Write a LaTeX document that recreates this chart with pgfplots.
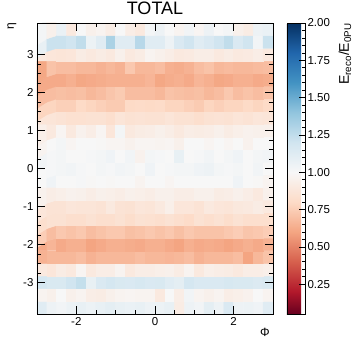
\documentclass[border=0pt]{standalone}
\usepackage{fontspec}
\setmainfont{Liberation Sans}
\usepackage{pgfplots}
\pgfplotsset{compat=1.18}
\begin{document}
\begin{tikzpicture}
\begin{axis}[
  at={(0,0)}, anchor=south west,
  scale only axis, width=236pt, height=291pt,
  xmin=-3, xmax=3, ymin=-3.83333, ymax=3.83333,
  axis on top,
  tick align=inside,
  xtick={-2,0,2}, minor x tick num=3,
  ytick={-3,-2,-1,0,1,2,3}, minor y tick num=3,
  major tick length=8pt, minor tick length=4pt,
  tick style={black, line width=0.6pt},
  axis line style={line width=0.8pt, black},
  ticklabel style={font=\fontsize{11.5}{12}\selectfont},
  /pgf/number format/assume math mode=true,
  title={TOTAL},
  title style={font=\fontsize{18}{20}\selectfont, at={(axis description cs:0.5,1)}, anchor=south, inner sep=0pt, yshift=2pt},
  xlabel={Φ}, ylabel={η},
  every axis x label/.style={at={(axis description cs:1,0)}, anchor=north east, inner sep=0pt, yshift=-14pt, xshift=-3pt, font=\fontsize{12}{13}\selectfont},
  every axis y label/.style={at={(axis description cs:-0.106,1)}, rotate=90, anchor=east, inner sep=0pt, font=\fontsize{12}{13}\selectfont},
  colormap={rdbu}{rgb255(5)=(103,0,31); rgb255(20)=(178,24,43); rgb255(40)=(214,96,77); rgb255(60)=(244,165,130); rgb255(80)=(253,219,199); rgb255(100)=(247,247,247); rgb255(120)=(209,229,240); rgb255(140)=(146,197,222); rgb255(160)=(67,147,195); rgb255(180)=(33,102,172); rgb255(200)=(5,48,97)},
  point meta min=0.05, point meta max=2,
  colorbar,
  colorbar style={
    scale only axis, width=18pt, height=291pt,
    at={(parent axis.north east)}, anchor=north west, xshift=14pt-0.3cm,
    axis on top,
    ytick={0.25,0.5,0.75,1.0,1.25,1.5,1.75,2.0}, minor y tick num=4,
    ytick pos=right, yticklabel pos=right,
    tick align=inside,
    major tick length=6pt, minor tick length=3pt,
    yticklabel style={font=\fontsize{11.5}{12}\selectfont, xshift=-1pt, /pgf/number format/.cd, fixed, fixed zerofill, precision=2, assume math mode=true},
    ylabel={E\textsubscript{reco}/E\textsubscript{0PU}},
    every axis y label/.style={at={(axis description cs:3.22,1)}, rotate=90, anchor=east, inner sep=0pt, font=\fontsize{14}{15}\selectfont},
  },
]
\addplot[matrix plot*, mesh/cols=24, point meta=explicit]
  table[row sep=\\, x expr={mod(\coordindex,24)*0.25-2.875}, y expr={floor(\coordindex/24)/3-11/3}, meta=c] {
c\\
1.12\\ 1.05\\ 1.03\\ 1.06\\ 1.08\\ 1.06\\ 1.08\\ 1.10\\ 1.08\\ 1.07\\ 1.08\\ 1.05\\ 1.06\\ 1.08\\ 0.92\\ 1.05\\ 1.03\\ 1.10\\ 1.05\\ 1.15\\ 1.05\\ 1.06\\ 1.04\\ 1.12\\
0.97\\ 0.95\\ 1.00\\ 0.95\\ 0.97\\ 0.93\\ 0.92\\ 0.95\\ 0.97\\ 0.98\\ 0.97\\ 0.97\\ 0.90\\ 1.00\\ 0.93\\ 1.03\\ 0.97\\ 0.95\\ 0.97\\ 0.93\\ 0.94\\ 0.96\\ 1.00\\ 0.97\\
1.18\\ 1.16\\ 1.16\\ 1.20\\ 1.24\\ 1.08\\ 1.15\\ 1.18\\ 1.16\\ 1.15\\ 1.17\\ 1.15\\ 1.16\\ 1.12\\ 1.10\\ 1.18\\ 1.15\\ 1.15\\ 1.15\\ 1.17\\ 1.16\\ 1.16\\ 1.14\\ 1.16\\
0.90\\ 0.88\\ 0.92\\ 0.90\\ 0.98\\ 0.90\\ 0.93\\ 0.93\\ 0.97\\ 0.90\\ 0.93\\ 0.93\\ 0.94\\ 0.95\\ 0.92\\ 0.97\\ 0.90\\ 0.94\\ 0.93\\ 0.92\\ 0.90\\ 0.93\\ 0.93\\ 0.94\\
0.65\\ 0.67\\ 0.67\\ 0.67\\ 0.69\\ 0.65\\ 0.67\\ 0.67\\ 0.67\\ 0.67\\ 0.69\\ 0.67\\ 0.67\\ 0.66\\ 0.67\\ 0.69\\ 0.65\\ 0.67\\ 0.67\\ 0.67\\ 0.69\\ 0.60\\ 0.67\\ 0.71\\
0.62\\ 0.66\\ 0.62\\ 0.64\\ 0.64\\ 0.60\\ 0.62\\ 0.64\\ 0.64\\ 0.63\\ 0.62\\ 0.64\\ 0.64\\ 0.62\\ 0.60\\ 0.64\\ 0.62\\ 0.63\\ 0.62\\ 0.60\\ 0.62\\ 0.64\\ 0.62\\ 0.65\\
0.75\\ 0.69\\ 0.73\\ 0.71\\ 0.73\\ 0.69\\ 0.71\\ 0.73\\ 0.73\\ 0.70\\ 0.71\\ 0.73\\ 0.71\\ 0.73\\ 0.70\\ 0.73\\ 0.71\\ 0.71\\ 0.71\\ 0.73\\ 0.75\\ 0.72\\ 0.73\\ 0.75\\
0.83\\ 0.85\\ 0.85\\ 0.83\\ 0.83\\ 0.85\\ 0.83\\ 0.83\\ 0.85\\ 0.82\\ 0.85\\ 0.84\\ 0.83\\ 0.85\\ 0.83\\ 0.81\\ 0.85\\ 0.83\\ 0.85\\ 0.82\\ 0.85\\ 0.83\\ 0.83\\ 0.83\\
0.88\\ 0.86\\ 0.86\\ 0.88\\ 0.87\\ 0.87\\ 0.86\\ 0.90\\ 0.86\\ 0.85\\ 0.88\\ 0.87\\ 0.90\\ 0.94\\ 0.88\\ 0.88\\ 0.86\\ 0.90\\ 0.88\\ 0.87\\ 0.89\\ 0.90\\ 0.92\\ 0.90\\
0.96\\ 0.93\\ 0.94\\ 0.96\\ 0.95\\ 0.93\\ 0.95\\ 0.94\\ 0.93\\ 0.95\\ 0.94\\ 0.93\\ 0.95\\ 0.95\\ 0.93\\ 0.93\\ 0.95\\ 0.95\\ 0.92\\ 0.93\\ 0.95\\ 0.93\\ 0.90\\ 0.95\\
1.00\\ 1.04\\ 1.00\\ 1.00\\ 1.01\\ 0.99\\ 1.00\\ 0.99\\ 1.00\\ 1.00\\ 0.97\\ 1.00\\ 1.00\\ 0.98\\ 1.00\\ 1.00\\ 1.00\\ 1.00\\ 1.00\\ 1.00\\ 1.04\\ 1.00\\ 0.99\\ 0.97\\
1.00\\ 1.01\\ 1.02\\ 1.03\\ 1.01\\ 1.00\\ 1.02\\ 1.01\\ 1.03\\ 1.02\\ 1.00\\ 1.04\\ 1.00\\ 1.01\\ 1.02\\ 1.02\\ 1.04\\ 1.05\\ 1.02\\ 1.01\\ 1.02\\ 1.00\\ 1.03\\ 1.00\\
1.03\\ 1.01\\ 1.02\\ 1.00\\ 1.00\\ 1.01\\ 1.02\\ 1.04\\ 1.00\\ 1.03\\ 0.96\\ 1.02\\ 1.01\\ 1.00\\ 1.08\\ 1.00\\ 1.01\\ 1.03\\ 1.00\\ 1.02\\ 1.04\\ 1.00\\ 1.02\\ 1.03\\
0.97\\ 1.00\\ 1.02\\ 0.98\\ 1.00\\ 1.00\\ 0.99\\ 0.98\\ 0.98\\ 0.96\\ 0.98\\ 0.98\\ 0.97\\ 0.98\\ 0.95\\ 1.00\\ 1.00\\ 0.98\\ 1.00\\ 0.98\\ 1.00\\ 0.96\\ 1.00\\ 1.00\\
0.94\\ 0.90\\ 0.98\\ 0.90\\ 0.96\\ 0.93\\ 0.98\\ 0.88\\ 1.02\\ 0.90\\ 0.92\\ 0.93\\ 0.95\\ 0.93\\ 0.90\\ 0.93\\ 0.92\\ 0.93\\ 0.95\\ 0.92\\ 0.94\\ 0.96\\ 0.95\\ 0.95\\
0.87\\ 0.87\\ 0.86\\ 0.84\\ 0.84\\ 0.85\\ 0.85\\ 0.83\\ 0.87\\ 0.85\\ 0.86\\ 0.85\\ 0.85\\ 0.87\\ 0.85\\ 0.85\\ 0.83\\ 0.85\\ 0.86\\ 0.85\\ 0.87\\ 0.86\\ 0.88\\ 0.87\\
0.78\\ 0.78\\ 0.76\\ 0.76\\ 0.80\\ 0.78\\ 0.76\\ 0.74\\ 0.74\\ 0.80\\ 0.81\\ 0.80\\ 0.81\\ 0.78\\ 0.78\\ 0.76\\ 0.74\\ 0.78\\ 0.76\\ 0.78\\ 0.78\\ 0.80\\ 0.78\\ 0.80\\
0.69\\ 0.69\\ 0.70\\ 0.69\\ 0.70\\ 0.67\\ 0.69\\ 0.72\\ 0.74\\ 0.69\\ 0.69\\ 0.69\\ 0.67\\ 0.71\\ 0.70\\ 0.69\\ 0.70\\ 0.67\\ 0.69\\ 0.73\\ 0.69\\ 0.71\\ 0.69\\ 0.71\\
0.62\\ 0.62\\ 0.62\\ 0.64\\ 0.61\\ 0.62\\ 0.63\\ 0.64\\ 0.64\\ 0.64\\ 0.64\\ 0.66\\ 0.61\\ 0.63\\ 0.64\\ 0.62\\ 0.66\\ 0.64\\ 0.61\\ 0.62\\ 0.64\\ 0.64\\ 0.62\\ 0.63\\
0.61\\ 0.71\\ 0.69\\ 0.69\\ 0.67\\ 0.67\\ 0.65\\ 0.67\\ 0.65\\ 0.73\\ 0.67\\ 0.67\\ 0.69\\ 0.64\\ 0.63\\ 0.65\\ 0.69\\ 0.71\\ 0.67\\ 0.68\\ 0.67\\ 0.67\\ 0.68\\ 0.69\\
0.90\\ 0.88\\ 0.87\\ 0.88\\ 0.92\\ 0.90\\ 0.92\\ 0.90\\ 0.95\\ 0.90\\ 0.92\\ 0.97\\ 0.95\\ 0.93\\ 0.90\\ 0.91\\ 0.93\\ 0.93\\ 0.90\\ 0.92\\ 0.90\\ 0.91\\ 0.93\\ 0.90\\
1.08\\ 1.22\\ 1.22\\ 1.20\\ 1.25\\ 1.06\\ 1.12\\ 1.32\\ 1.12\\ 1.12\\ 1.28\\ 1.12\\ 1.12\\ 1.05\\ 1.15\\ 1.20\\ 1.12\\ 1.15\\ 1.20\\ 1.25\\ 1.15\\ 1.20\\ 1.03\\ 1.22\\
1.02\\ 0.95\\ 1.07\\ 0.90\\ 1.00\\ 0.95\\ 0.97\\ 0.93\\ 1.00\\ 0.93\\ 0.90\\ 1.02\\ 1.05\\ 1.00\\ 0.97\\ 1.03\\ 0.98\\ 1.05\\ 1.00\\ 1.02\\ 0.95\\ 0.92\\ 1.05\\ 1.07\\
};
\end{axis}
\pgfresetboundingbox
\path (-37pt,-26pt) rectangle (316pt,314pt);
\end{tikzpicture}
\end{document}
